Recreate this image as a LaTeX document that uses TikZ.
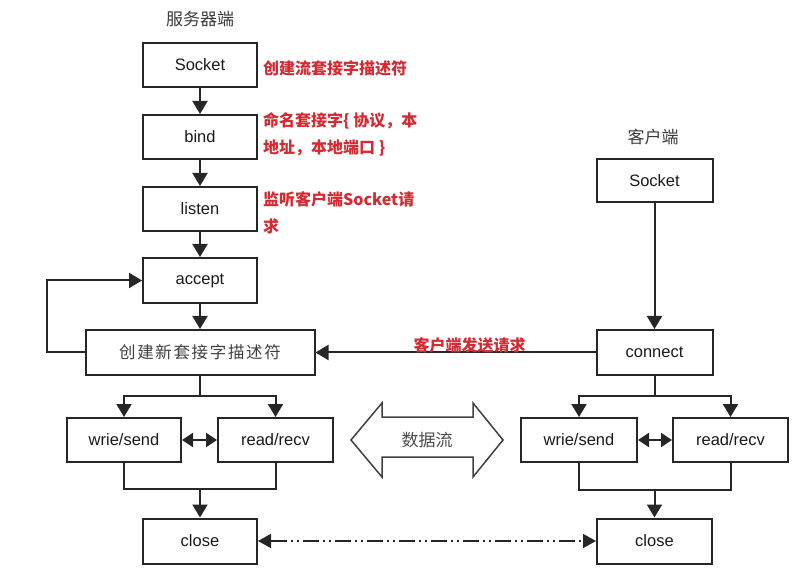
\documentclass[tikz,border=0pt]{standalone}
\usepackage{fontspec}
\setmainfont{Liberation Sans}
\newfontfamily\cjk{Noto Sans CJK SC}
\usetikzlibrary{arrows.meta,calc}
\definecolor{annred}{HTML}{D42A33}
\definecolor{headgray}{HTML}{3A3A3A}
\tikzset{
  box/.style={draw=black!85, line width=2pt, inner sep=0pt, minimum height=44pt, minimum width=114pt, font=\fontsize{16.5}{18}\selectfont, text=black!90},
  link/.style={draw=black!85, line width=2pt},
  arr/.style={link, -{Triangle[width=15pt,length=13pt]}},
  arrtwo/.style={link, {Triangle[width=14pt,length=11pt]}-{Triangle[width=14pt,length=11pt]}},
  ann/.style={text=annred, anchor=north west, align=left, inner sep=0pt, font=\cjk\bfseries\fontsize{16}{27}\selectfont},
  head/.style={text=headgray, inner sep=0pt, font=\cjk\fontsize{17}{20}\selectfont},
}
\begin{document}
\begin{tikzpicture}[x=1pt,y=-1pt]
\useasboundingbox (0,0) rectangle (798,577);
% server
\node[head] (shead) at (200,19) {服务器端};
\node[box] (sSocket) at (200,65) {Socket};
\node[box] (sBind) at (200,137) {bind};
\node[box] (sListen) at (200,209) {listen};
\node[box, minimum height=45pt] (sAccept) at (200,280.5) {accept};
\node[box, minimum width=229pt, minimum height=45pt, font=\cjk\addfontfeatures{LetterSpace=10}\fontsize{16.5}{18}\selectfont, text=black!75] (sNew) at (200,352.5) {创建新套接字描述符};
\node[box] (sWrite) at (124,440) {wrie/send};
\node[box, minimum width=115pt] (sRead) at (275.5,440) {read/recv};
\node[box, minimum height=45pt] (sClose) at (200,541) {close};
% annotations
\node[ann] (a1) at (263,60) {创建流套接字描述符};
\node[ann] (a2) at (263,112) {命名套接字\{ 协议，本\\地址，本地端口 \}};
\node[ann] (a3) at (263,191) {监听客户端Socket请\\求};
% client
\node[head] (chead) at (653,137) {客户端};
\node[box, minimum width=116pt, minimum height=43pt] (cSocket) at (654.5,180.5) {Socket};
\node[box, minimum width=116pt, minimum height=45pt] (cConnect) at (654.5,352.5) {connect};
\node[box, minimum width=116pt] (cWrite) at (579,440) {wrie/send};
\node[box, minimum width=115pt] (cRead) at (730.5,440) {read/recv};
\node[box, minimum width=115pt, minimum height=45pt] (cClose) at (654.5,541) {close};
% server links
\draw[arr] (sSocket) -- (sBind);
\draw[arr] (sBind) -- (sListen);
\draw[arr] (sListen) -- (sAccept);
\draw[arr] (sAccept) -- (sNew);
\draw[arr] (sNew.west) -- ++(-38,0) |- (sAccept.west);
\coordinate (sfork) at ($(sNew.south)+(0,20)$);
\draw[link] (sNew.south) -- (sfork);
\draw[arr] (sfork) -| (sWrite.north);
\draw[arr] (sfork) -| (sRead.north);
\draw[arrtwo] (sWrite.east) -- (sRead.west);
\coordinate (smerge) at (200,489);
\draw[link] (sWrite.south) |- (smerge) -| (sRead.south);
\draw[arr] (smerge) -- (sClose.north);
% client links
\draw[arr] (cSocket) -- (cConnect);
\draw[arr] (cConnect.west) -- node[pos=0.45, above=-5pt, text=annred, font=\cjk\bfseries\fontsize{16}{18}\selectfont] (req) {客户端发送请求} (sNew.east);
\coordinate (cfork) at ($(cConnect.south)+(0,20)$);
\draw[link] (cConnect.south) -- (cfork);
\draw[arr] (cfork) -| (cWrite.north);
\draw[arr] (cfork) -| (cRead.north);
\draw[arrtwo] (cWrite.east) -- (cRead.west);
\coordinate (cmerge) at (654.5,490);
\draw[link] (cWrite.south) |- (cmerge) -| (cRead.south);
\draw[arr] (cmerge) -- (cClose.north);
% close-close
\draw[link, line width=1.6pt, dash pattern=on 16pt off 4pt on 2pt off 4pt on 2pt off 4pt,
  {Triangle[width=14pt,length=13pt]}-{Triangle[width=14pt,length=13pt]}] (sClose.east) -- (cClose.west);
% data flow arrow
\draw[line width=1.5pt, draw=black!75, fill=white]
  (351,440) -- (382,403) -- (382,417) -- (473,417) -- (473,403) -- (503,440)
  -- (473,477) -- (473,457) -- (382,457) -- (382,477) -- cycle;
\node[font=\cjk\fontsize{17}{20}\selectfont, text=black!70] (flow) at (427,440) {数据流};
\end{tikzpicture}
\end{document}
